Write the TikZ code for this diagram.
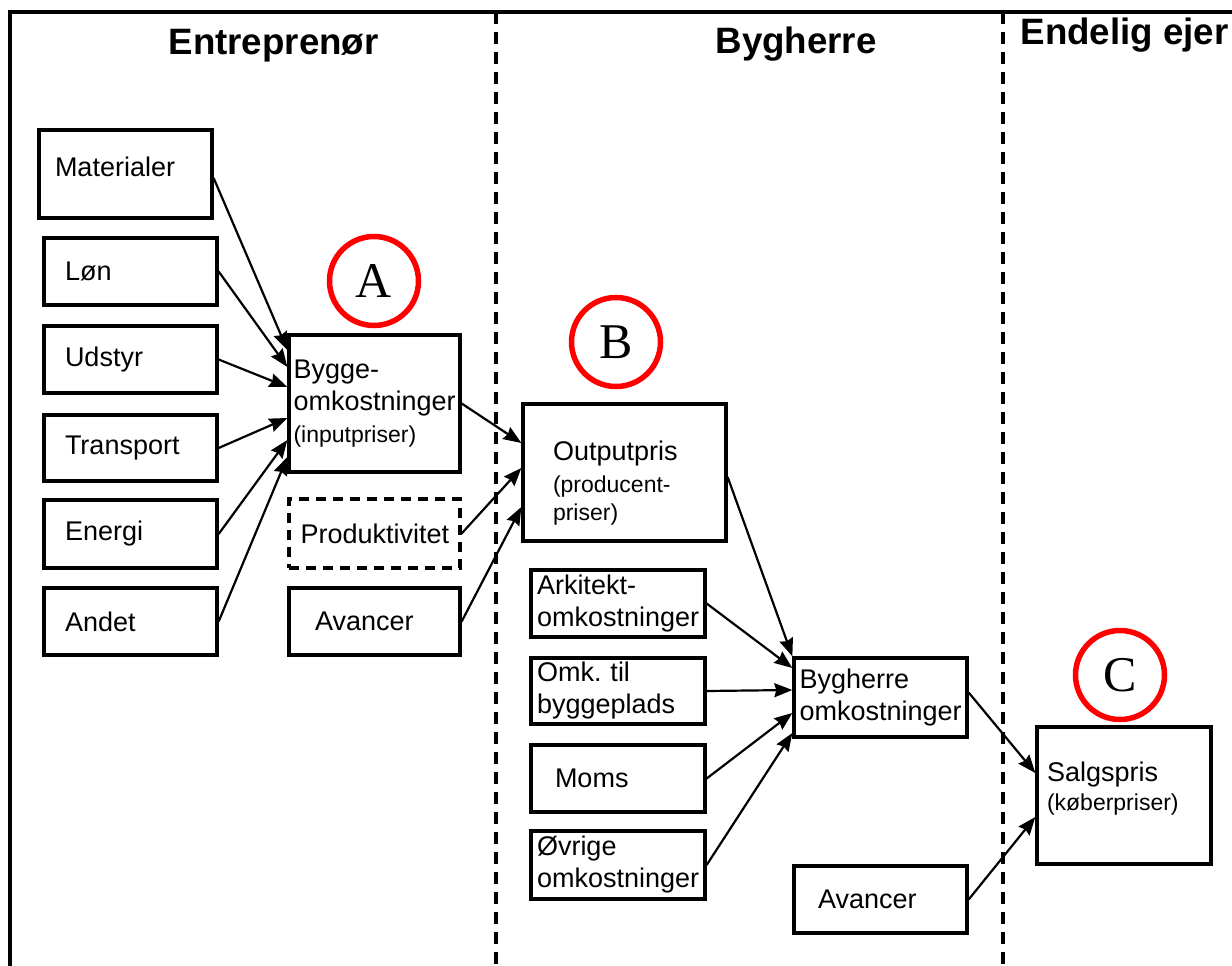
\documentclass[tikz,border=0pt]{standalone}
\usepackage{fontspec}
\setmainfont{Liberation Sans}
\newfontfamily\letterfont{Liberation Serif}
\usetikzlibrary{arrows.meta}
\hyphenpenalty=10000
\exhyphenpenalty=10000

\begin{document}
\begin{tikzpicture}[
  x=1pt, y=-1pt,
  box/.style={
    draw,
    line width=3.3pt,
    inner sep=0pt,
    align=left,
    font=\fontsize{27}{32}\selectfont
  },
  dashbox/.style={
    box,
    dash pattern=on 10pt off 7pt
  },
  title/.style={
    anchor=base west,
    font=\fontsize{36.7}{40}\selectfont\bfseries
  },
  badge/.style={
    circle,
    draw=red,
    line width=5.5pt,
    minimum size=89pt,
    inner sep=0pt,
    font=\letterfont\fontsize{50}{50}\selectfont
  },
  divider/.style={line width=4pt, dash pattern=on 12pt off 8pt},
  arrow/.style={-{Stealth[length=18pt,width=14pt,inset=2pt]}, line width=2.2pt}
]
\useasboundingbox (0,0) rectangle (1232,966);

\draw[line width=3.5pt] (10,966) -- (10,12) -- (1232,12);
\draw[divider] (496,12) -- (496,966);
\draw[divider] (1003,12) -- (1003,966);

\node[title] (tEntr) at (165,55) {Entreprenør};
\node[title] (tByg) at (712,54) {Bygherre};
\node[title] (tEjer) at (1017,45) {Endelig ejer};

\node[box, minimum width=173pt, minimum height=88pt, text width=141pt] (mat) at (125.5,174) {Materialer\rule[-14pt]{0pt}{1pt}};
\node[box, minimum width=173pt, minimum height=67pt, text width=131pt] (lon) at (130.5,271.5) {Løn};
\node[box, minimum width=173pt, minimum height=67pt, text width=131pt] (udstyr) at (130.5,359.5) {Udstyr};
\node[box, minimum width=173pt, minimum height=66pt, text width=131pt] (transport) at (130.5,448) {Transport};
\node[box, minimum width=173pt, minimum height=68pt, text width=131pt] (energi) at (130.5,534) {Energi};
\node[box, minimum width=173pt, minimum height=67pt, text width=131pt] (andet) at (130.5,621.5) {Andet};

\node[box, minimum width=171pt, minimum height=137pt, text width=162pt] (bygge) at (374.5,403.5)
  {Bygge-\\omkostninger\\{\fontsize{23}{28}\selectfont(inputpriser)}};
\node[dashbox, minimum width=171pt, minimum height=69pt, text width=148pt] (prod) at (374.5,533.5) {Produktivitet};
\node[box, minimum width=171pt, minimum height=67pt, text width=119pt] (avanc1) at (374.5,621.5) {Avancer};

\node[box, minimum width=203pt, minimum height=137pt, text width=143pt] (output) at (624.5,472.5)
  {\rule{0pt}{40pt}Outputpris\\{\fontsize{23}{28}\selectfont(producent-}\\[-4pt]{\fontsize{23}{28}\selectfont priser)}};
\node[box, minimum width=174pt, minimum height=67pt, text width=162pt] (arkitekt) at (618,603.5) {Arkitekt-\\omkostninger};
\node[box, minimum width=174pt, minimum height=66pt, text width=162pt] (omk) at (618,691) {Omk.\ til\\byggeplads};
\node[box, minimum width=174pt, minimum height=67pt, text width=126pt] (moms) at (618,778.5) {Moms};
\node[box, minimum width=174pt, minimum height=68pt, text width=162pt] (ovrige) at (618,865) {Øvrige\\omkostninger};

\node[box, minimum width=173pt, minimum height=79pt, text width=162pt] (byghomk) at (880.5,697.5) {Bygherre\\omkostninger};
\node[box, minimum width=173pt, minimum height=67pt, text width=125pt] (avanc2) at (880.5,899.5) {Avancer};
\node[box, minimum width=174pt, minimum height=137pt, text width=154pt] (salg) at (1124,795.5)
  {Salgspris\\[-3pt]{\fontsize{23}{28}\selectfont(køberpriser)}\rule[-18pt]{0pt}{1pt}};

\node[badge] (circA) at (374,281) {A};
\node[badge] (circB) at (616,342) {B};
\node[badge] (circC) at (1120,675) {C};

\draw[arrow] ([yshift=-4pt]mat.east) -- ([yshift=53.5pt]bygge.west);
\draw[arrow] (lon.east) -- ([yshift=36.5pt]bygge.west);
\draw[arrow] (udstyr.east) -- ([yshift=16.5pt]bygge.west);
\draw[arrow] (transport.east) -- ([yshift=-14.5pt]bygge.west);
\draw[arrow] (energi.east) -- ([yshift=-36.5pt]bygge.west);
\draw[arrow] (andet.east) -- ([yshift=-53.5pt]bygge.west);

\draw[arrow] (bygge.east) -- ([yshift=29.5pt]output.west);
\draw[arrow] (prod.east) -- ([yshift=4.5pt]output.west);
\draw[arrow] (avanc1.east) -- ([yshift=-34.5pt]output.west);

\draw[arrow] ([yshift=-4.5pt]output.east) -- (byghomk.north west);
\draw[arrow] (arkitekt.east) -- ([yshift=29.5pt]byghomk.west);
\draw[arrow] (omk.east) -- ([yshift=7.5pt]byghomk.west);
\draw[arrow] (moms.east) -- ([yshift=-15.5pt]byghomk.west);
\draw[arrow] (ovrige.east) -- ([yshift=-35.5pt]byghomk.west);

\draw[arrow] ([yshift=5pt]byghomk.east) -- ([yshift=22.5pt]salg.west);
\draw[arrow] (avanc2.east) -- ([yshift=-21.5pt]salg.west);
\end{tikzpicture}
\end{document}
